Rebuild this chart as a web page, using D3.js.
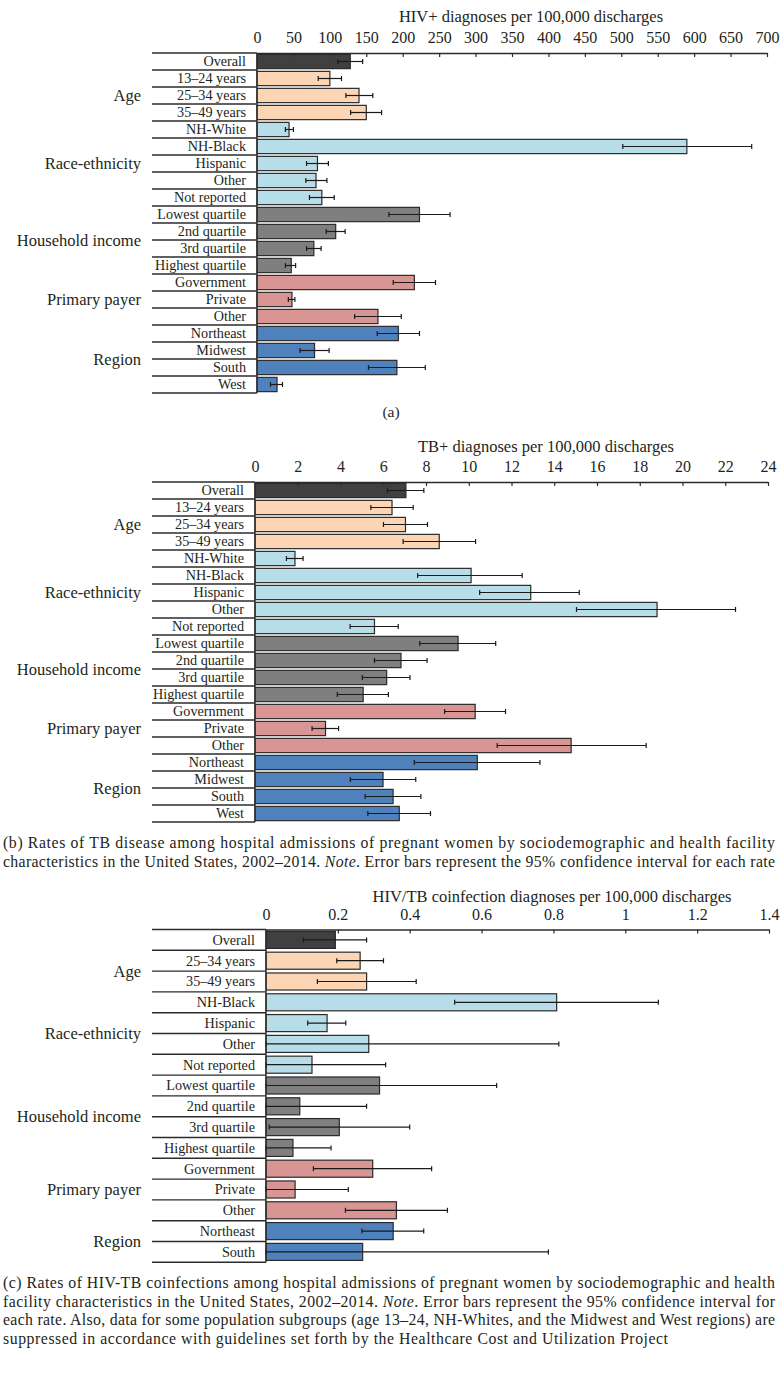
<!DOCTYPE html>
<html><head><meta charset="utf-8">
<script src="https://cdn.jsdelivr.net/npm/d3@7"></script>
<style>
body{margin:0;background:#fff}
svg{display:block}
text{font-family:"Liberation Serif","Times New Roman",serif;fill:#231f20}
</style>
</head><body>
<svg id="chart" width="784" height="1379"></svg>
<script>
// ---------- data ----------
const catsAB = ["Overall","13–24 years","25–34 years","35–49 years","NH-White","NH-Black","Hispanic","Other","Not reported","Lowest quartile","2nd quartile","3rd quartile","Highest quartile","Government","Private","Other","Northeast","Midwest","South","West"];
const groupsAB = ["","Age","Age","Age","Race-ethnicity","Race-ethnicity","Race-ethnicity","Race-ethnicity","Race-ethnicity","Household income","Household income","Household income","Household income","Primary payer","Primary payer","Primary payer","Region","Region","Region","Region"];
const colorKeyAB = ["overall","age","age","age","race","race","race","race","race","income","income","income","income","payer","payer","payer","region","region","region","region"];

const hivRate = [128,100,140,150,44,590,83,81,89,223,108,78,47,216,48,166,194,79,192,27.5];
const hivLow  = [111,84,122,128.5,39,502,68,67,72,181,95,68,39,187,43,134,165,59,153,18.5];
const hivHigh = [145,116,159,171,50,679,98,96,106,265,121,88,53,245,52,198,223,99,231,35];
const hivTicks = [0,50,100,150,200,250,300,350,400,450,500,550,600,650,700];

const tbRate = [7.06,6.41,7.04,8.62,1.87,10.11,12.90,18.81,5.59,9.50,6.83,6.16,5.06,10.30,3.30,14.79,10.40,5.99,6.46,6.75];
const tbLow  = [6.20,5.42,6.01,6.93,1.47,7.61,10.51,15.04,4.45,7.71,5.59,5.02,3.85,8.87,2.67,11.33,7.45,4.46,5.15,5.28];
const tbHigh = [7.90,7.40,8.07,10.32,2.25,12.50,15.17,22.48,6.70,11.26,8.05,7.25,6.24,11.72,3.91,18.30,13.33,7.52,7.76,8.21];
const tbTicks = [0,2,4,6,8,10,12,14,16,18,20,22,24];

const catsC = ["Overall","25–34 years","35–49 years","NH-Black","Hispanic","Other","Not reported","Lowest quartile","2nd quartile","3rd quartile","Highest quartile","Government","Private","Other","Northeast","South"];
const groupsC = ["","Age","Age","Race-ethnicity","Race-ethnicity","Race-ethnicity","Race-ethnicity","Household income","Household income","Household income","Household income","Primary payer","Primary payer","Primary payer","Region","Region"];
const colorKeyC = ["overall","age","age","race","race","race","race","income","income","income","income","payer","payer","payer","region","region"];
const coRate = [0.193,0.262,0.280,0.809,0.170,0.286,0.128,0.316,0.094,0.204,0.075,0.297,0.081,0.363,0.354,0.269];
const coLow  = [0.104,0.197,0.143,0.525,0.116,0,0,0,0,0.009,0,0.132,0,0.221,0.267,0];
const coHigh = [0.280,0.327,0.418,1.092,0.222,0.815,0.333,0.642,0.280,0.400,0.181,0.461,0.229,0.505,0.439,0.786];
const coTicks = [0,0.2,0.4,0.6,0.8,1,1.2,1.4];

const palette = {overall:"#404040", age:"#fcd5b5", race:"#b7dde8", income:"#7f7f7f", payer:"#d99594", region:"#4f81bd"};

// ---------- drawing ----------
const svg = d3.select("#chart");

function drawPanel(o) {
  const g = svg.append("g");
  const n = o.cats.length;
  const x = d3.scaleLinear().domain([0, o.max]).range([o.x0, o.x1]);
  const y = d3.scaleBand().domain(d3.range(n))
      .range([o.top, o.top + o.rowH * n])
      .paddingInner(o.pad).paddingOuter(o.pad / 2);
  const step = y.step();
  const cy = i => y(i) + y.bandwidth() / 2;

  // title
  g.append("text").attr("x", o.titleX).attr("y", o.titleY)
    .attr("text-anchor", "middle").attr("font-size", 16.5).text(o.title);

  // row separators in label box
  g.selectAll("line.sep").data(d3.range(n + 1)).join("line")
    .attr("x1", 152).attr("x2", o.x0)
    .attr("y1", i => o.top + i * step).attr("y2", i => o.top + i * step)
    .attr("stroke", "#2b2b2b").attr("stroke-width", 1.4);

  // bars
  g.selectAll("rect.bar").data(o.vals).join("rect")
    .attr("x", x(0)).attr("y", (d, i) => y(i))
    .attr("width", d => x(d) - x(0)).attr("height", y.bandwidth())
    .attr("fill", (d, i) => palette[o.keys[i]])
    .attr("stroke", "#2a2a2a").attr("stroke-width", 1.2);

  // error bars
  const eb = g.selectAll("g.eb").data(o.vals).join("g");
  eb.append("line")
    .attr("x1", (d, i) => x(o.lo[i])).attr("x2", (d, i) => x(o.hi[i]))
    .attr("y1", (d, i) => cy(i)).attr("y2", (d, i) => cy(i))
    .attr("stroke", "#1a1a1a").attr("stroke-width", 1.2);
  [o.lo, o.hi].forEach(arr => {
    eb.append("line")
      .attr("x1", (d, i) => x(arr[i])).attr("x2", (d, i) => x(arr[i]))
      .attr("y1", (d, i) => cy(i) - 2.5).attr("y2", (d, i) => cy(i) + 2.5)
      .attr("stroke", "#1a1a1a").attr("stroke-width", 1.2);
  });

  // top axis
  const ax = g.append("g").attr("transform", `translate(0,${o.top})`)
    .call(d3.axisTop(x).tickValues(o.ticks).tickSizeInner(-4).tickSizeOuter(0)
      .tickPadding(10).tickFormat(d => String(d)));
  ax.select(".domain").attr("stroke", "#2b2b2b").attr("stroke-width", 1.4);
  ax.selectAll(".tick line").attr("stroke", "#2b2b2b").attr("stroke-width", 1.2);
  ax.selectAll(".tick text").attr("font-size", 16).attr("fill", "#231f20")
    .attr("font-family", '"Liberation Serif", serif');

  // vertical axis line
  g.append("line").attr("x1", o.x0).attr("x2", o.x0)
    .attr("y1", o.top).attr("y2", o.top + step * n)
    .attr("stroke", "#2b2b2b").attr("stroke-width", 1.4);

  // row labels
  g.selectAll("text.cat").data(o.cats).join("text")
    .attr("x", o.x0 - 11).attr("y", (d, i) => cy(i)).attr("dy", "0.35em")
    .attr("text-anchor", "end").attr("font-size", 14.2).text(d => d);

  // group labels
  const groups = d3.groups(d3.range(n).filter(i => o.groups[i]), i => o.groups[i]);
  g.selectAll("text.grp").data(groups).join("text")
    .attr("x", 141)
    .attr("y", d => (cy(d[1][0]) + cy(d[1][d[1].length - 1])) / 2)
    .attr("dy", "0.35em").attr("text-anchor", "end").attr("font-size", 16.5)
    .text(d => d[0]);
}

drawPanel({cats: catsAB, groups: groupsAB, keys: colorKeyAB, vals: hivRate, lo: hivLow, hi: hivHigh,
  ticks: hivTicks, max: 700, x0: 257, x1: 767, top: 53, rowH: 17, pad: 0.16,
  title: "HIV+ diagnoses per 100,000 discharges", titleX: 531, titleY: 22});

drawPanel({cats: catsAB, groups: groupsAB, keys: colorKeyAB, vals: tbRate, lo: tbLow, hi: tbHigh,
  ticks: tbTicks, max: 24, x0: 255, x1: 768, top: 482, rowH: 17, pad: 0.16,
  title: "TB+ diagnoses per 100,000 discharges", titleX: 546, titleY: 452});

drawPanel({cats: catsC, groups: groupsC, keys: colorKeyC, vals: coRate, lo: coLow, hi: coHigh,
  ticks: coTicks, max: 1.4, x0: 266, x1: 769, top: 929.5, rowH: 20.8, pad: 0.18,
  title: "HIV/TB coinfection diagnoses per 100,000 discharges", titleX: 552, titleY: 902});

// sub-panel label and captions
svg.append("text").attr("x", 391).attr("y", 417).attr("text-anchor", "middle")
  .attr("font-size", 15.5).text("(a)");

function caption(lines, y0, lh) {
  lines.forEach((ln, k) => {
    const t = svg.append("text").attr("x", 3).attr("y", y0 + k * lh).attr("font-size", 15.8);
    ln.parts.forEach(p => {
      const s = t.append("tspan").text(p.t);
      if (p.i) s.attr("font-style", "italic");
    });
    if (ln.w) t.attr("textLength", ln.w).attr("lengthAdjust", "spacing");
  });
}

caption([
  {parts: [{t: "(b)  Rates of TB disease among hospital admissions of pregnant women by sociodemographic and health facility"}], w: 772},
  {parts: [{t: "characteristics in the United States, 2002–2014. "}, {t: "Note", i: true}, {t: ". Error bars represent the 95% confidence interval for each rate"}], w: 772}
], 848, 19);

caption([
  {parts: [{t: "(c)  Rates of HIV-TB coinfections among hospital admissions of pregnant women by sociodemographic and health"}], w: 772},
  {parts: [{t: "facility characteristics in the United States, 2002–2014. "}, {t: "Note", i: true}, {t: ". Error bars represent the 95% confidence interval for"}], w: 772},
  {parts: [{t: "each rate. Also, data for some population subgroups (age 13–24, NH-Whites, and the Midwest and West regions) are"}], w: 772},
  {parts: [{t: "suppressed in accordance with guidelines set forth by the Healthcare Cost and Utilization Project"}], w: 665}
], 1288, 18.5);
</script>
</body></html>
